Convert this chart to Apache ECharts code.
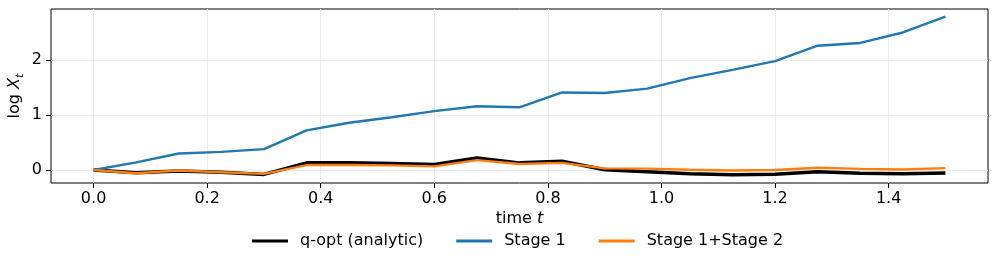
<!DOCTYPE html>
<html><head><meta charset="utf-8">
<script src="https://cdn.jsdelivr.net/npm/echarts@6/dist/echarts.min.js"></script>
<style>html,body{margin:0;padding:0;background:#fff}#c{width:997px;height:268px}</style>
</head><body><div id="c"></div>
<script>
const times = [0,0.075,0.15,0.225,0.3,0.375,0.45,0.525,0.6,0.675,0.75,0.825,0.9,0.975,1.05,1.125,1.2,1.275,1.35,1.425,1.5];
const qopt = [0,-0.05,-0.02,-0.04,-0.08,0.13,0.13,0.12,0.10,0.22,0.13,0.16,0.005,-0.03,-0.07,-0.085,-0.075,-0.03,-0.06,-0.07,-0.055];
const stage1 = [0,0.14,0.30,0.33,0.38,0.72,0.86,0.96,1.07,1.16,1.14,1.41,1.40,1.48,1.67,1.82,1.98,2.26,2.31,2.50,2.79];
const stage12 = [0,-0.06,-0.01,-0.04,-0.07,0.09,0.09,0.085,0.067,0.18,0.11,0.13,0.03,0.025,0.005,-0.01,0.0,0.04,0.02,0.01,0.035];
const xTicks = [0,0.2,0.4,0.6,0.8,1.0,1.2,1.4];
const yTicks = [0,1,2];
const names = ['q-opt (analytic)','Stage 1','Stage 1+Stage 2'];

const F = 'DejaVu Sans';
const FS = 16;
const pair = a => times.map((t,i)=>[t,a[i]]);
const chart = echarts.init(document.getElementById('c'), null, {renderer:'canvas'});
chart.setOption({
  animation:false,
  textStyle:{fontFamily:F},
  grid:{left:51,right:9,top:9,bottom:85,containLabel:false,outerBoundsMode:'none',show:true,borderColor:'#000',borderWidth:1,backgroundColor:'transparent'},
  legend:{top:233,left:252,padding:0,itemWidth:36,itemHeight:3,itemGap:33,icon:'rect',
    textStyle:{fontFamily:F,fontSize:FS,color:'#000',padding:[0,0,0,7]},data:names},
  xAxis:{type:'value',min:-0.075,max:1.575,
    name:'time {i|t}',nameLocation:'middle',nameGap:28,nameMoveOverlap:false,
    nameTextStyle:{fontFamily:F,fontSize:FS,color:'#000',rich:{i:{fontFamily:F,fontStyle:'italic',fontSize:FS,color:'#000'}}},
    axisLine:{show:false,onZero:false},
    axisTick:{show:true,inside:false,length:5,customValues:xTicks,lineStyle:{color:'#000',width:1}},
    axisLabel:{customValues:xTicks,margin:8,fontFamily:F,fontSize:FS,color:'#000',formatter:v=>v.toFixed(1)},
    splitLine:{show:true,lineStyle:{color:'#ebebeb',width:1}}},
  yAxis:{type:'value',min:-0.236,max:2.927,
    name:'log {i|X}{s|t}',nameLocation:'middle',nameGap:25,nameRotate:90,nameMoveOverlap:false,
    nameTextStyle:{fontFamily:F,fontSize:FS,color:'#000',lineHeight:22,
      rich:{i:{fontFamily:F,fontStyle:'italic',fontSize:FS,color:'#000',lineHeight:22,verticalAlign:'middle'},
            s:{fontFamily:F,fontStyle:'italic',fontSize:11,color:'#000',lineHeight:22,verticalAlign:'bottom'}}},
    axisLine:{show:false,onZero:false},
    axisTick:{show:true,inside:false,length:5,customValues:yTicks,lineStyle:{color:'#000',width:1}},
    axisLabel:{customValues:yTicks,margin:9,fontFamily:F,fontSize:FS,color:'#000'},
    splitLine:{show:true,lineStyle:{color:'#ebebeb',width:1}}},
  series:[
    {name:names[0],type:'line',data:pair(qopt),showSymbol:false,symbol:'none',color:'#000',lineStyle:{width:3.5,color:'#000'},z:2},
    {name:names[1],type:'line',data:pair(stage1),showSymbol:false,symbol:'none',color:'#1f77b4',lineStyle:{width:2.4,color:'#1f77b4'},z:3},
    {name:names[2],type:'line',data:pair(stage12),showSymbol:false,symbol:'none',color:'#ff7f0e',lineStyle:{width:2.4,color:'#ff7f0e'},z:4}
  ]
});
</script></body></html>
